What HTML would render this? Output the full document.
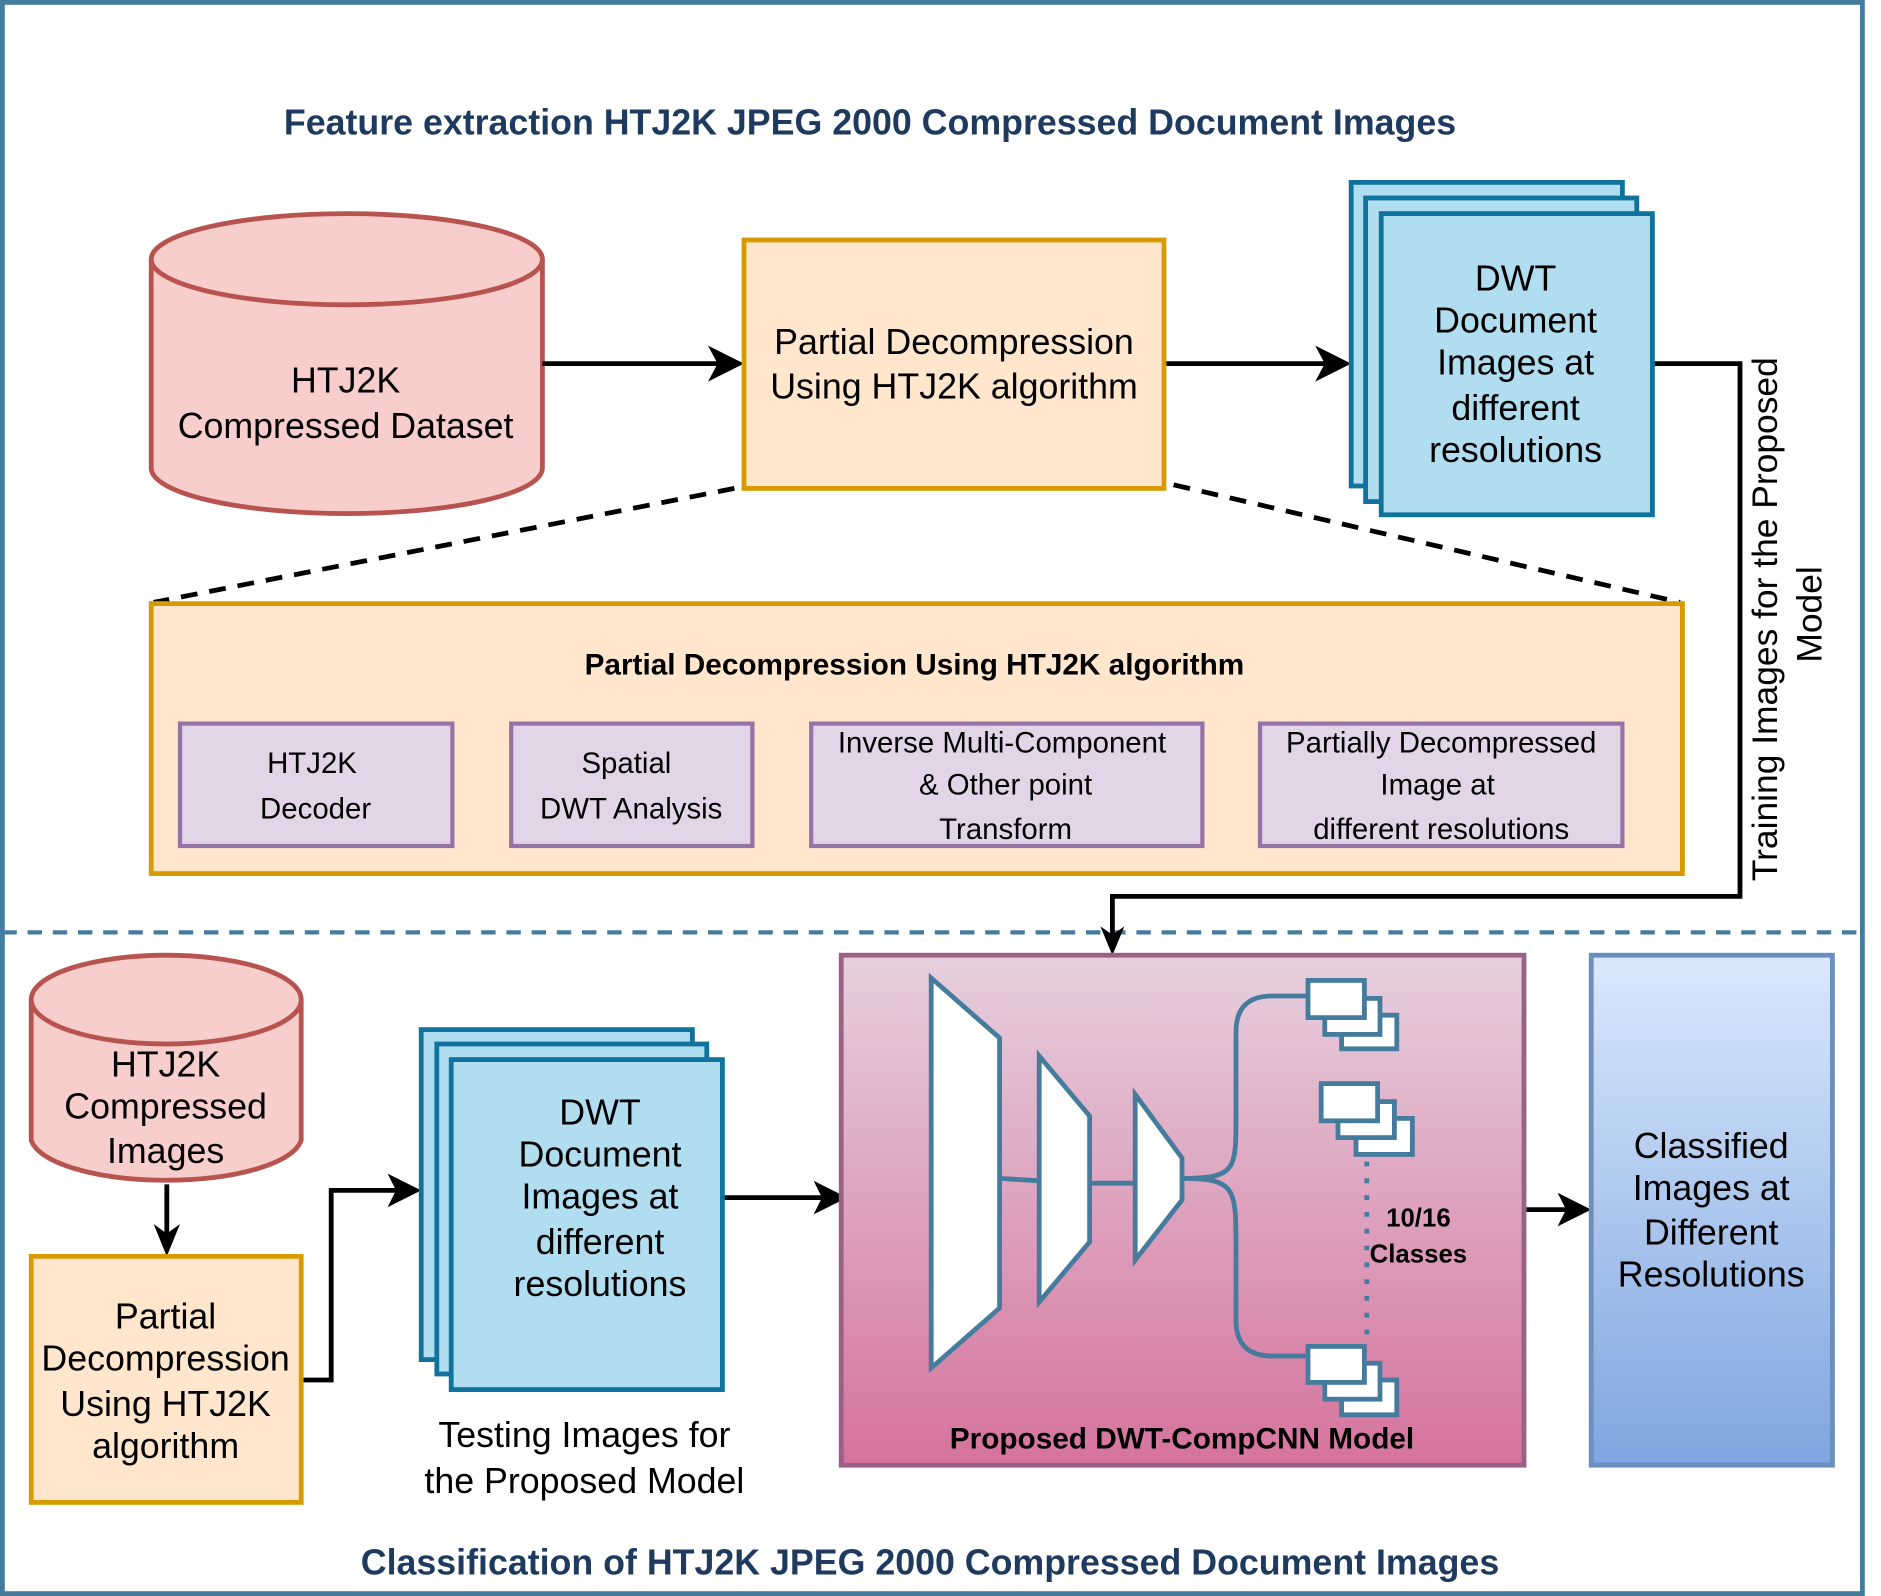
<!DOCTYPE html>
<html><head><meta charset="utf-8"><style>
html,body{margin:0;padding:0;background:#fff}
svg{display:block}
text{font-family:"Liberation Sans",Arial,sans-serif}
</style></head><body>
<svg width="1881" height="1596" viewBox="0 0 1567.5 1330" xmlns="http://www.w3.org/2000/svg">
<defs>
<linearGradient id="pk" x1="0" y1="0" x2="0" y2="1"><stop offset="0" stop-color="#e6d0de"/><stop offset="1" stop-color="#d5739d"/></linearGradient>
<linearGradient id="bl" x1="0" y1="0" x2="0" y2="1"><stop offset="0" stop-color="#dae8fc"/><stop offset="1" stop-color="#7ea6e0"/></linearGradient>
</defs>
<rect x="2" y="2" width="1550" height="1326" fill="#fff" stroke="#457b9d" stroke-width="4"/>
<line x1="2" y1="777" x2="1552" y2="777" stroke="#457b9d" stroke-width="3.5" stroke-dasharray="12,9"/>
<text x="725" y="112" text-anchor="middle" font-size="29.8" font-weight="bold" fill="#1f3a5f">Feature extraction HTJ2K JPEG 2000 Compressed Document Images</text>
<text x="775" y="1312" text-anchor="middle" font-size="29.8" font-weight="bold" fill="#1f3a5f">Classification of HTJ2K JPEG 2000 Compressed Document Images</text>

<path d="M126,216 L126,390 A163,38 0 0 0 452,390 L452,216" fill="#f8cecc" stroke="#b85450" stroke-width="4"/>
<ellipse cx="289" cy="216" rx="163" ry="38" fill="#f8cecc" stroke="#b85450" stroke-width="4"/>
<text x="288" y="327" text-anchor="middle" font-size="29.8">HTJ2K</text>
<text x="288" y="365" text-anchor="middle" font-size="29.8">Compressed Dataset</text>

<g stroke="#000" stroke-width="4" fill="none">
<line x1="452" y1="303" x2="605" y2="303"/>
<line x1="970" y1="303" x2="1112" y2="303"/>
<polyline points="1377,303 1450,303 1450,747 927,747 927,782"/>
<line x1="377" y1="654" x2="414" y2="654"/>
<line x1="627" y1="654" x2="664" y2="654"/>
<line x1="1002" y1="654" x2="1038" y2="654"/>
<line x1="139" y1="987" x2="139" y2="1032"/>
<polyline points="251,1150 276,1150 276,992 338,992"/>
<line x1="602" y1="998" x2="692" y2="998"/>
<line x1="1272" y1="1008" x2="1312" y2="1008"/>
</g>
<g fill="#000">
<polygon points="620,303 590,288 598,303 590,318"/>
<polygon points="1126,303 1096,288 1104,303 1096,318"/>
<polygon points="927,796 917,772 927,779 937,772"/>
<polygon points="426,654 402,643 408,654 402,665"/>
<polygon points="676,654 652,643 658,654 652,665"/>
<polygon points="1050,654 1026,643 1032,654 1026,665"/>
<polygon points="139,1047 128,1020 139,1028 150,1020"/>
<polygon points="351,992 323,978 330,992 323,1006"/>
<polygon points="706,998 678,984 685,998 678,1012"/>
<polygon points="1326,1008 1298,994 1305,1008 1298,1022"/>
</g>

<rect x="620" y="200" width="350" height="207" fill="#ffe6cc" stroke="#d79b00" stroke-width="4"/>
<text x="795" y="295" text-anchor="middle" font-size="29.8">Partial Decompression</text>
<text x="795" y="332" text-anchor="middle" font-size="29.8">Using HTJ2K algorithm</text>

<g fill="#b1ddf0" stroke="#10739e" stroke-width="4">
<rect x="1126" y="152" width="226" height="253"/>
<rect x="1138" y="165" width="226" height="253"/>
<rect x="1151" y="178" width="226" height="251"/>
</g>
<g font-size="29.8" text-anchor="middle">
<text x="1263" y="242">DWT</text><text x="1263" y="277">Document</text><text x="1263" y="312">Images at</text><text x="1263" y="350">different</text><text x="1263" y="385">resolutions</text>
</g>
<text transform="translate(1481,516) rotate(-90)" text-anchor="middle" font-size="29.5">Training Images for the Proposed</text>
<text transform="translate(1518,512) rotate(-90)" text-anchor="middle" font-size="29.5">Model</text>

<g stroke="#000" stroke-width="4" stroke-dasharray="14,10">
<line x1="612" y1="407" x2="128" y2="502"/>
<line x1="978" y1="404" x2="1400" y2="502"/>
</g>
<rect x="126" y="503" width="1276" height="225" fill="#ffe6cc" stroke="#d79b00" stroke-width="4"/>
<text x="762" y="562" text-anchor="middle" font-size="24.8" font-weight="bold">Partial Decompression Using HTJ2K algorithm</text>
<g fill="#e1d5e7" stroke="#9673a6" stroke-width="3.5">
<rect x="150" y="603" width="227" height="102"/>
<rect x="426" y="603" width="201" height="102"/>
<rect x="676" y="603" width="326" height="102"/>
<rect x="1050" y="603" width="302" height="102"/>
</g>
<g font-size="24.5" text-anchor="middle">
<text x="260" y="644">HTJ2K</text><text x="263" y="682">Decoder</text>
<text x="522" y="644">Spatial</text><text x="526" y="682">DWT Analysis</text>
<text x="835" y="627">Inverse Multi-Component</text><text x="838" y="662">&amp; Other point</text><text x="838" y="699">Transform</text>
<text x="1201" y="627">Partially Decompressed</text><text x="1198" y="662">Image at</text><text x="1201" y="699">different resolutions</text>
</g>

<path d="M26,833 L26,950 A113,37 0 0 0 251,950 L251,833" fill="#f8cecc" stroke="#b85450" stroke-width="4"/>
<ellipse cx="138.5" cy="833" rx="112.5" ry="37" fill="#f8cecc" stroke="#b85450" stroke-width="4"/>
<g font-size="29.8" text-anchor="middle">
<text x="138" y="897">HTJ2K</text><text x="138" y="932">Compressed</text><text x="138" y="969">Images</text>
</g>
<rect x="26" y="1047" width="225" height="205" fill="#ffe6cc" stroke="#d79b00" stroke-width="4"/>
<g font-size="29.8" text-anchor="middle">
<text x="138" y="1107">Partial</text><text x="138" y="1142">Decompression</text><text x="138" y="1180">Using HTJ2K</text><text x="138" y="1215">algorithm</text>
</g>
<g fill="#b1ddf0" stroke="#10739e" stroke-width="4">
<rect x="351" y="858" width="226" height="275"/>
<rect x="364" y="870" width="225" height="275"/>
<rect x="376" y="883" width="226" height="275"/>
</g>
<g font-size="29.8" text-anchor="middle">
<text x="500" y="937">DWT</text><text x="500" y="972">Document</text><text x="500" y="1007">Images at</text><text x="500" y="1045">different</text><text x="500" y="1080">resolutions</text>
<text x="487" y="1206">Testing Images for</text><text x="487" y="1244">the Proposed Model</text>
</g>

<rect x="701" y="796" width="569" height="425" fill="url(#pk)" stroke="#996185" stroke-width="4"/>
<text x="985" y="1207" text-anchor="middle" font-size="24.8" font-weight="bold">Proposed DWT-CompCNN Model</text>
<g stroke="#457b9d" stroke-width="4" fill="none">
<line x1="833" y1="982" x2="866" y2="984"/>
<line x1="908" y1="986" x2="946" y2="986"/>
<path d="M985,982 C1030,982 1030,975 1030,930 L1030,860 Q1030,830 1060,830 L1090,830"/>
<path d="M985,982 C1030,982 1030,990 1030,1040 L1030,1100 Q1030,1130 1060,1130 L1090,1130"/>
</g>
<g stroke="#457b9d" stroke-width="4" fill="#fff">
<polygon points="776,815 833,865 833,1090 776,1140"/>
<polygon points="866,880 908,930 908,1035 866,1085"/>
<polygon points="946,912 985,965 985,1000 946,1050"/>
<rect x="1118" y="846" width="46" height="28"/><rect x="1104" y="832" width="46" height="30"/><rect x="1090" y="817" width="47" height="31"/>
<rect x="1130" y="932" width="47" height="30"/><rect x="1115" y="918" width="47" height="30"/><rect x="1101" y="903" width="47" height="31"/>
<rect x="1118" y="1150" width="46" height="29"/><rect x="1104" y="1136" width="46" height="30"/><rect x="1090" y="1122" width="47" height="30"/>
</g>
<line x1="1139" y1="968" x2="1139" y2="1120" stroke="#457b9d" stroke-width="4" stroke-dasharray="4,10"/>
<text x="1182" y="1022" text-anchor="middle" font-size="21.5" font-weight="bold">10/16</text>
<text x="1182" y="1052" text-anchor="middle" font-size="21.5" font-weight="bold">Classes</text>

<rect x="1326" y="796" width="201" height="425" fill="url(#bl)" stroke="#6c8ebf" stroke-width="4"/>
<g font-size="29.8" text-anchor="middle">
<text x="1426" y="965">Classified</text><text x="1426" y="1000">Images at</text><text x="1426" y="1037">Different</text><text x="1426" y="1072">Resolutions</text>
</g>
</svg>
</body></html>
